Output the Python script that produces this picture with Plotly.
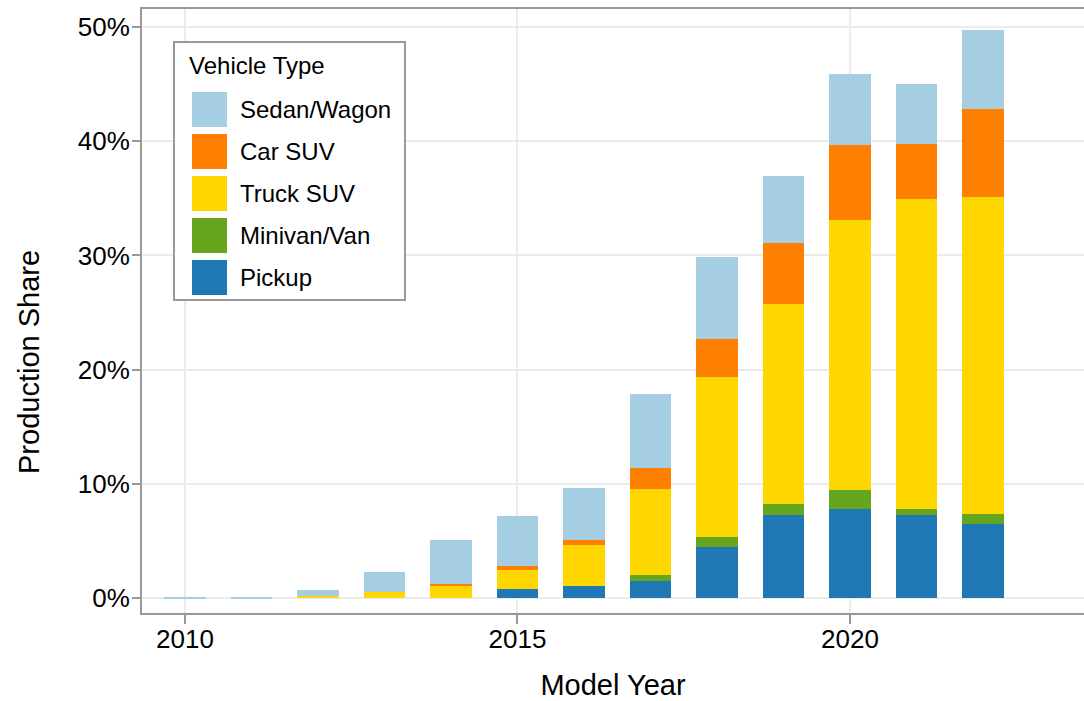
import plotly.graph_objects as go

years = [2010, 2011, 2012, 2013, 2014, 2015, 2016, 2017, 2018, 2019, 2020, 2021, 2022]
types = ["Pickup", "Minivan/Van", "Truck SUV", "Car SUV", "Sedan/Wagon"]
colors = {
    "Sedan/Wagon": "#a6cee3",
    "Car SUV": "#ff7f00",
    "Truck SUV": "#ffd700",
    "Minivan/Van": "#66a61e",
    "Pickup": "#1f78b4",
}
# production share (%) by vehicle type
pickup = [0.0, 0.0, 0.0, 0.0, 0.0, 0.78, 1.08, 1.52, 4.51, 7.31, 7.82, 7.31, 6.49]
minivan = [0.0, 0.0, 0.0, 0.0, 0.0, 0.0, 0.0, 0.46, 0.85, 0.90, 1.66, 0.51, 0.88]
truck_suv = [0.0, 0.0, 0.18, 0.50, 1.08, 1.66, 3.58, 7.53, 13.96, 17.50, 23.60, 27.12, 27.73]
car_suv = [0.0, 0.0, 0.0, 0.0, 0.12, 0.35, 0.44, 1.85, 3.37, 5.36, 6.60, 4.83, 7.72]
sedan = [0.06, 0.06, 0.55, 1.81, 3.91, 4.40, 4.55, 6.49, 7.15, 5.88, 6.23, 5.26, 6.95]
series = {
    "Pickup": pickup,
    "Minivan/Van": minivan,
    "Truck SUV": truck_suv,
    "Car SUV": car_suv,
    "Sedan/Wagon": sedan,
}
legend_order = ["Sedan/Wagon", "Car SUV", "Truck SUV", "Minivan/Van", "Pickup"]
y_ticks = [0, 10, 20, 30, 40, 50]
y_tick_labels = ["0%", "10%", "20%", "30%", "40%", "50%"]
x_ticks = [2010, 2015, 2020]
x_tick_labels = ["2010", "2015", "2020"]

W, H = 1084, 701
L, R, T, B = 142, 0, 9, 88
FONT = "Liberation Sans, Arial, sans-serif"

fig = go.Figure()
for t in types:
    fig.add_trace(go.Bar(
        x=years, y=series[t], name=t, width=0.62,
        marker=dict(color=colors[t], line=dict(width=0)),
        showlegend=False,
    ))

pw = W - L - R
ph = H - T - B


def px_x(p):
    return (p - L) / pw


def px_y(p):
    return (H - B - p) / ph


shapes = []
annotations = []
# legend box
shapes.append(dict(type="rect", xref="paper", yref="paper",
                   x0=px_x(174), x1=px_x(405), y0=px_y(300), y1=px_y(42),
                   line=dict(color="#999999", width=2), fillcolor="white", layer="above"))
annotations.append(dict(xref="paper", yref="paper", x=px_x(187), y=px_y(65),
                        text="Vehicle Type", showarrow=False, xanchor="left", yanchor="middle",
                        font=dict(size=24, color="black", family=FONT)))
for i, name in enumerate(legend_order):
    top = 92 + 42 * i
    shapes.append(dict(type="rect", xref="paper", yref="paper",
                       x0=px_x(192), x1=px_x(227), y0=px_y(top + 35), y1=px_y(top),
                       line=dict(width=0), fillcolor=colors[name], layer="above"))
    annotations.append(dict(xref="paper", yref="paper", x=px_x(238), y=px_y(top + 17.5),
                            text=name, showarrow=False, xanchor="left", yanchor="middle",
                            font=dict(size=24, color="black", family=FONT)))
# y axis title
annotations.append(dict(xref="paper", yref="paper", x=px_x(29), y=px_y(362),
                        text="Production Share", showarrow=False, textangle=-90,
                        xanchor="center", yanchor="middle",
                        font=dict(size=29, color="black", family=FONT)))

fig.update_layout(
    width=W, height=H,
    margin=dict(l=L, r=R, t=T, b=B, autoexpand=False),
    barmode="stack",
    plot_bgcolor="white", paper_bgcolor="white",
    font=dict(family=FONT, color="black"),
    shapes=shapes, annotations=annotations,
    xaxis=dict(
        range=[2009.353, 2023.52], tickvals=x_ticks, ticktext=x_tick_labels,
        showgrid=True, gridcolor="#ebebeb", gridwidth=2, zeroline=False,
        showline=True, linecolor="#999999", linewidth=2, mirror=True,
        ticks="outside", ticklen=9, tickwidth=2, tickcolor="#999999",
        tickfont=dict(size=26, color="black"), ticklabelstandoff=-7,
        title=dict(text="Model Year", font=dict(size=29, color="black"), standoff=23),
    ),
    yaxis=dict(
        range=[-1.31, 51.58], tickvals=y_ticks, ticktext=y_tick_labels,
        showgrid=True, gridcolor="#ebebeb", gridwidth=2, zeroline=False,
        showline=True, linecolor="#999999", linewidth=2, mirror=True,
        ticks="outside", ticklen=8, tickwidth=2, tickcolor="#999999",
        tickfont=dict(size=26, color="black"), ticklabelstandoff=-3,
    ),
)

fig.write_html("out.html", config={"displayModeBar": False},
               post_script="document.body.style.margin='0';document.body.style.padding='0';")
